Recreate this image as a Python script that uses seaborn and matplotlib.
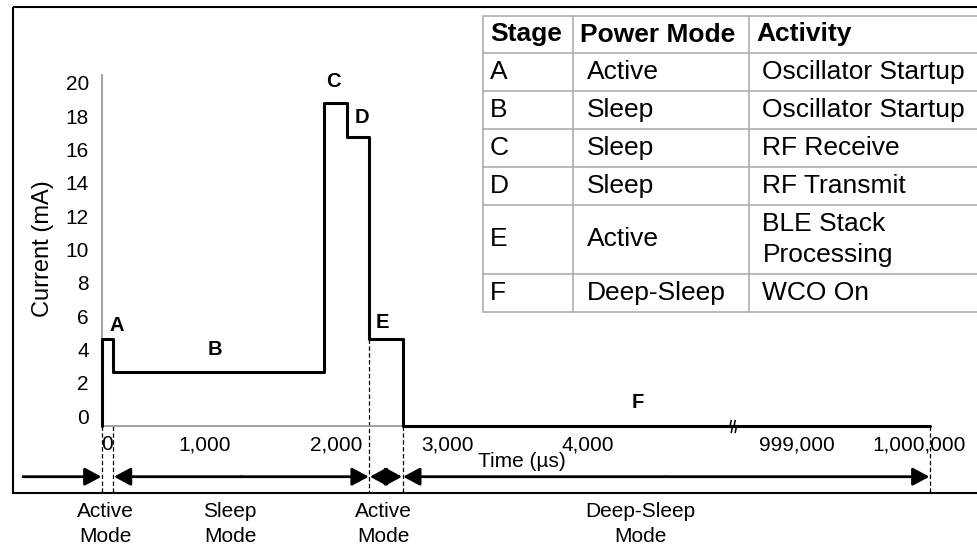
import numpy as np
import pandas as pd
import matplotlib
matplotlib.use('Agg')
import matplotlib.pyplot as plt
import matplotlib.transforms as mtransforms
from matplotlib.patches import Rectangle
from matplotlib.path import Path
import seaborn as sns

sns.set_theme(style='white')
plt.rcParams['font.family'] = ['Liberation Sans', 'DejaVu Sans']

#%% data
# current profile of one BLE connection interval (step changes)
time_us = [0, 0, 110, 1910, 2100, 2300, 2600, 1000000]
current_ma = [0, 5.2, 3.25, 19.4, 17.35, 5.2, 0, 0]

stage_names = ['A', 'B', 'C', 'D', 'E', 'F']
stage_start = [0, 110, 1910, 2100, 2300, 2600]
stage_level = [5.2, 3.25, 19.4, 17.35, 5.2, 0]

x_ticks = [0, 1000, 2000, 3000, 4000, 999000, 1000000]
x_ticklabels = ['0', '1,000', '2,000', '3,000', '4,000', '999,000', '1,000,000']
y_ticks = list(range(0, 21, 2))

mode_bounds = [0, 110, 2300, 2600, 1000000]
mode_names = ['Active\nMode', 'Sleep\nMode', 'Active\nMode', 'Deep-Sleep\nMode']

table_header = ['Stage', 'Power Mode', 'Activity']
table_stage = ['A', 'B', 'C', 'D', 'E', 'F']
table_power = ['Active', 'Sleep', 'Sleep', 'Sleep', 'Active', 'Deep-Sleep']
table_activity = ['Oscillator Startup', 'Oscillator Startup', 'RF Receive',
                  'RF Transmit', 'BLE Stack\nProcessing', 'WCO On']

#%% layout (pixels)
W, H = 977, 545
AX_L, AX_R, AX_B, AX_T = 102, 930, 426, 75
YMAX = 21.06

# the time axis is drawn schematically (non uniform, with a break)
axis_t = [0, 1000, 2000, 3000, 4000, 5000, 998500, 999000, 1000000]
axis_px = [0, 103, 234, 345, 486, 631, 632, 695, 828]


def fwd(t):
    return np.interp(t, axis_t, axis_px)


def inv(p):
    return np.interp(p, axis_px, axis_t)


fig = plt.figure(figsize=(W / 100, H / 100), dpi=100)
fig.patch.set_facecolor('white')
ax = fig.add_axes([AX_L / W, 1 - AX_B / H, (AX_R - AX_L) / W, (AX_B - AX_T) / H])

df = pd.DataFrame({'time': time_us, 'current': current_ma})
sns.lineplot(data=df, x='time', y='current', estimator=None, sort=False,
             drawstyle='steps-post', color='black', lw=2.2, ax=ax, zorder=3)
ax.lines[-1].set_clip_on(False)

ax.set_xscale('function', functions=(fwd, inv))
ax.set_xlim(0, 1000000)
ax.set_ylim(0, YMAX)

sns.despine(ax=ax)
for s in ['left', 'bottom']:
    ax.spines[s].set_color('#9a9a9a')
    ax.spines[s].set_linewidth(1.3)

ax.set_xticks(x_ticks, x_ticklabels)
ax.set_yticks(y_ticks)
ax.tick_params(axis='both', length=0, labelsize=15, labelcolor='black')
ax.tick_params(axis='x', pad=6.5)
ax.tick_params(axis='y', pad=9.4)

# shift labels to where they sit in the original drawing
for lab in ax.get_yticklabels():
    lab.set_transform(lab.get_transform() + mtransforms.ScaledTranslation(0, 0.10, fig.dpi_scale_trans))
xlabs = ax.get_xticklabels()
xlabs[0].set_transform(xlabs[0].get_transform() + mtransforms.ScaledTranslation(0.05, 0, fig.dpi_scale_trans))
xlabs[-1].set_transform(xlabs[-1].get_transform() + mtransforms.ScaledTranslation(-0.11, 0, fig.dpi_scale_trans))

ax.set_xlabel('Time (µs)', fontsize=15, color='black')
ax.xaxis.set_label_coords(0.507, -0.074)
ax.set_ylabel('Current (mA)', fontsize=17, color='black')
ax.yaxis.set_label_coords(-0.058, 0.505)

# stage letters
letter_offsets = [(15, 14), (102, 22), (9, 21), (15, 19), (13, 17), (235, 23)]
for name, t, lvl, off in zip(stage_names, stage_start, stage_level, letter_offsets):
    ax.annotate(name, xy=(t, lvl), xytext=off, textcoords='offset pixels',
                ha='center', va='center', fontsize=14.5, fontweight='bold',
                color='black', annotation_clip=False)

# axis break marker: two small wavy strokes
brk = Path([(-1.8, -5), (-1.0, -1.5), (-2.4, 1.5), (-1.6, 5),
            (1.2, -5), (2.0, -1.5), (0.6, 1.5), (1.4, 5)],
           [Path.MOVETO, Path.LINETO, Path.LINETO, Path.LINETO,
            Path.MOVETO, Path.LINETO, Path.LINETO, Path.LINETO])
ax.plot([5000], [0], marker=brk, ms=9.5, mew=1.1, mfc='none', mec='black', lw=0,
        clip_on=False, zorder=4)

# dashed mode boundaries
y_bottom = -(493 - AX_B) / (AX_B - AX_T) * YMAX
dash_top = [0, 0, stage_level[4], 0, 0]
for t, top in zip(mode_bounds, dash_top):
    ax.plot([t, t], [top, y_bottom], color='black', lw=0.9, ls=(0, (3.5, 2)),
            clip_on=False, zorder=2)

# mode arrows
arrow_y = -(476.7 - AX_B) / (AX_B - AX_T)
arrowprops = dict(arrowstyle='-|>,head_length=0.84,head_width=0.45', color='black',
                  lw=2, mutation_scale=12, shrinkA=0, shrinkB=0.4)
ax.annotate('', xy=(mode_bounds[0], arrow_y), xycoords=('data', 'axes fraction'),
            xytext=(23, H - 476.7), textcoords='figure pixels',
            arrowprops=arrowprops, annotation_clip=False)
for a, b in zip(mode_bounds[1:-1], mode_bounds[2:]):
    mid = inv((fwd(a) + fwd(b)) / 2)
    for end in (a, b):
        ax.annotate('', xy=(end, arrow_y), xycoords=('data', 'axes fraction'),
                    xytext=(mid, arrow_y), textcoords=('data', 'axes fraction'),
                    arrowprops=arrowprops, annotation_clip=False)

#%% overlay in pixel coordinates: frame, mode labels, table
ov = fig.add_axes([0, 0, 1, 1])
ov.set_xlim(0, W)
ov.set_ylim(H, 0)
ov.axis('off')

ov.add_patch(Rectangle((13, 7), 1000, 486, fill=False, ec='black', lw=1.5, clip_on=False))

mode_label_x = [105, 230, 383, 640]
for x, name in zip(mode_label_x, mode_names):
    ov.text(x, 524, name, ha='center', va='center', fontsize=15, color='black',
            linespacing=1.38, multialignment='center')

col_x = [483, 573, 749, 990]
header_h = 37
line_h = 31
tab_top = 16
row_tops = [tab_top, tab_top + header_h]
for act in table_activity:
    n = act.count('\n') + 1
    row_tops.append(row_tops[-1] + 38 + line_h * (n - 1))

grid = '#a8a8a8'
for y in row_tops:
    ov.plot([col_x[0], col_x[-1]], [y, y], color=grid, lw=1.1, clip_on=False)
for x in col_x:
    ov.plot([x, x], [row_tops[0], row_tops[-1]], color=grid, lw=1.1, clip_on=False)

fs = 19
for j, txt in enumerate(table_header):
    ov.text(col_x[j] + 7, (row_tops[0] + row_tops[1]) / 2, txt, ha='left', va='center',
            fontsize=fs, fontweight='bold', color='black')
body_indent = [7, 13.5, 13.5]
for i, row in enumerate(zip(table_stage, table_power, table_activity)):
    yc = (row_tops[i + 1] + row_tops[i + 2]) / 2
    for j, txt in enumerate(row):
        ov.text(col_x[j] + body_indent[j], yc, txt, ha='left', va='center',
                fontsize=fs, color='black', linespacing=1.4)

fig.savefig('out.png', dpi=100, facecolor='white')
